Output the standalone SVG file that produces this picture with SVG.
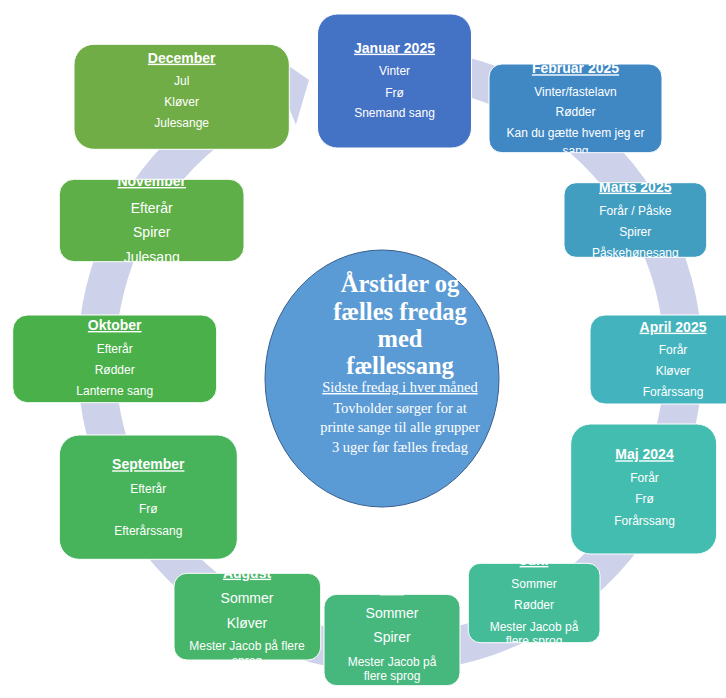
<svg xmlns="http://www.w3.org/2000/svg" width="726" height="698" viewBox="0 0 726 698">
<style>
.box{stroke:#ffffff;stroke-width:1}
.n text{font-family:"Liberation Sans",Arial,sans-serif;fill:#ffffff;text-anchor:middle;font-size:12px}
.n .t{font-weight:bold;font-size:14px;text-decoration:underline}
.n .l{font-size:14px}
.c text{font-family:"Liberation Serif","Times New Roman",serif;fill:#ffffff;text-anchor:middle}
.c .h{font-weight:bold;font-size:24.5px}
.c .s{font-size:14.5px}
</style>
<defs>
<clipPath id="k-jan"><rect x="317.5" y="14" width="154" height="134" rx="20"/></clipPath>
<clipPath id="k-feb"><rect x="489" y="64" width="173" height="88.7" rx="13"/></clipPath>
<clipPath id="k-mar"><rect x="564" y="182.7" width="142.7" height="74.6" rx="12"/></clipPath>
<clipPath id="k-apr"><rect x="590" y="315" width="166" height="89" rx="15"/></clipPath>
<clipPath id="k-maj"><rect x="570.7" y="424" width="146" height="130" rx="20"/></clipPath>
<clipPath id="k-jun"><rect x="468.3" y="563.3" width="131.7" height="79.4" rx="12"/></clipPath>
<clipPath id="k-jul"><rect x="324" y="594.3" width="136" height="91.4" rx="13"/></clipPath>
<clipPath id="k-aug"><rect x="174" y="573.3" width="146.7" height="86.7" rx="13"/></clipPath>
<clipPath id="k-sep"><rect x="59.3" y="435" width="178" height="124.3" rx="20"/></clipPath>
<clipPath id="k-okt"><rect x="12.7" y="315" width="204" height="87.7" rx="15"/></clipPath>
<clipPath id="k-nov"><rect x="59.3" y="179.3" width="184.7" height="82.4" rx="15"/></clipPath>
<clipPath id="k-dec"><rect x="74" y="44.3" width="215.3" height="105" rx="20"/></clipPath>
</defs>

<g id="connectors">
<path fill="#CDD2EA" d="M 444.27 52.25 A 312.5 312.5 0 1 1 273.94 69.84 L 266.14 50.35 L 309 80 L 295.85 124.63 L 288.05 105.13 A 274.5 274.5 0 1 0 437.67 89.67 Z"/>
</g>

<g id="center" class="c">
<ellipse cx="382" cy="378.5" rx="117" ry="128.5" fill="#5B9BD5" stroke="#3A5F8F" stroke-width="1"/>
<text class="h" x="400" y="292">Årstider og</text>
<text class="h" x="400" y="320">fælles fredag</text>
<text class="h" x="400" y="347">med</text>
<text class="h" x="400" y="374">fællessang</text>
<text class="s" x="400" y="392" text-decoration="underline">Sidste fredag i hver måned</text>
<text class="s" x="400" y="413">Tovholder sørger for at</text>
<text class="s" x="400" y="432">printe sange til alle grupper</text>
<text class="s" x="400" y="452">3 uger før fælles fredag</text>
</g>

<g id="januar" class="n">
<rect class="box" x="317.5" y="14" width="154" height="134" rx="20" fill="#4472C4"/>
<g clip-path="url(#k-jan)">
<text class="t" x="394.5" y="52.7">Januar 2025</text>
<text x="394.5" y="75">Vinter</text>
<text x="394.5" y="96.7">Frø</text>
<text x="394.5" y="116.7">Snemand sang</text>
</g>
</g>

<g id="februar" class="n">
<rect class="box" x="489" y="64" width="173" height="88.7" rx="13" fill="#4088C4"/>
<g clip-path="url(#k-feb)">
<text class="t" x="575.5" y="73.3">Februar 2025</text>
<text x="575.5" y="96">Vinter/fastelavn</text>
<text x="575.5" y="116">Rødder</text>
<text x="575.5" y="136.7">Kan du gætte hvem jeg er</text>
<text x="575.5" y="155">sang</text>
</g>
</g>

<g id="marts" class="n">
<rect class="box" x="564" y="182.7" width="142.7" height="74.6" rx="12" fill="#419EC1"/>
<g clip-path="url(#k-mar)">
<text class="t" x="635.3" y="191.7">Marts 2025</text>
<text x="635.3" y="215">Forår / Påske</text>
<text x="635.3" y="235.7">Spirer</text>
<text x="635.3" y="257">Påskehønesang</text>
</g>
</g>

<g id="april" class="n">
<rect class="box" x="590" y="315" width="166" height="89" rx="15" fill="#43B4BD"/>
<g clip-path="url(#k-apr)">
<text class="t" x="673" y="331.7">April 2025</text>
<text x="673" y="354.3">Forår</text>
<text x="673" y="375">Kløver</text>
<text x="673" y="396">Forårssang</text>
</g>
</g>

<g id="maj" class="n">
<rect class="box" x="570.7" y="424" width="146" height="130" rx="20" fill="#43BDAF"/>
<g clip-path="url(#k-maj)">
<text class="t" x="644.5" y="459.3">Maj 2024</text>
<text x="644.5" y="482.3">Forår</text>
<text x="644.5" y="503.3">Frø</text>
<text x="644.5" y="525">Forårssang</text>
</g>
</g>

<g id="juni" class="n">
<rect class="box" x="468.3" y="563.3" width="131.7" height="79.4" rx="12" fill="#45BC98"/>
<g clip-path="url(#k-jun)">
<text class="t" x="534" y="565">Juni</text>
<text x="534" y="588.3">Sommer</text>
<text x="534" y="609.3">Rødder</text>
<text x="534" y="630.7">Mester Jacob på</text>
<text x="534" y="645">flere sprog</text>
</g>
</g>

<g id="juli" class="n">
<rect class="box" x="324" y="594.3" width="136" height="91.4" rx="13" fill="#46B87E"/>
<g clip-path="url(#k-jul)">
<text class="t" x="392" y="593">Juli</text>
<text class="l" x="392" y="618.3">Sommer</text>
<text class="l" x="392" y="642.3">Spirer</text>
<text x="392" y="665.7">Mester Jacob på</text>
<text x="392" y="680">flere sprog</text>
</g>
</g>

<g id="august" class="n">
<rect class="box" x="174" y="573.3" width="146.7" height="86.7" rx="13" fill="#47B56A"/>
<g clip-path="url(#k-aug)">
<text class="t" x="247" y="577.7">August</text>
<text class="l" x="247" y="603.3">Sommer</text>
<text class="l" x="247" y="628.3">Kløver</text>
<text x="247" y="650">Mester Jacob på flere</text>
<text x="247" y="665">sprog</text>
</g>
</g>

<g id="september" class="n">
<rect class="box" x="59.3" y="435" width="178" height="124.3" rx="20" fill="#47B35A"/>
<g clip-path="url(#k-sep)">
<text class="t" x="148.3" y="469.3">September</text>
<text x="148.3" y="492.7">Efterår</text>
<text x="148.3" y="513.3">Frø</text>
<text x="148.3" y="535">Efterårssang</text>
</g>
</g>

<g id="oktober" class="n">
<rect class="box" x="12.7" y="315" width="204" height="87.7" rx="15" fill="#4AB04A"/>
<g clip-path="url(#k-okt)">
<text class="t" x="114.7" y="330">Oktober</text>
<text x="114.7" y="352.7">Efterår</text>
<text x="114.7" y="374">Rødder</text>
<text x="114.7" y="395">Lanterne sang</text>
</g>
</g>

<g id="november" class="n">
<rect class="box" x="59.3" y="179.3" width="184.7" height="82.4" rx="15" fill="#5EAF47"/>
<g clip-path="url(#k-nov)">
<text class="t" x="151.7" y="186">November</text>
<text class="l" x="151.7" y="212.7">Efterår</text>
<text class="l" x="151.7" y="236.7">Spirer</text>
<text class="l" x="151.7" y="261.7">Julesang</text>
</g>
</g>

<g id="december" class="n">
<rect class="box" x="74" y="44.3" width="215.3" height="105" rx="20" fill="#70AD47"/>
<g clip-path="url(#k-dec)">
<text class="t" x="181.7" y="62.7">December</text>
<text x="181.7" y="85">Jul</text>
<text x="181.7" y="106">Kløver</text>
<text x="181.7" y="126.7">Julesange</text>
</g>
</g>
</svg>
